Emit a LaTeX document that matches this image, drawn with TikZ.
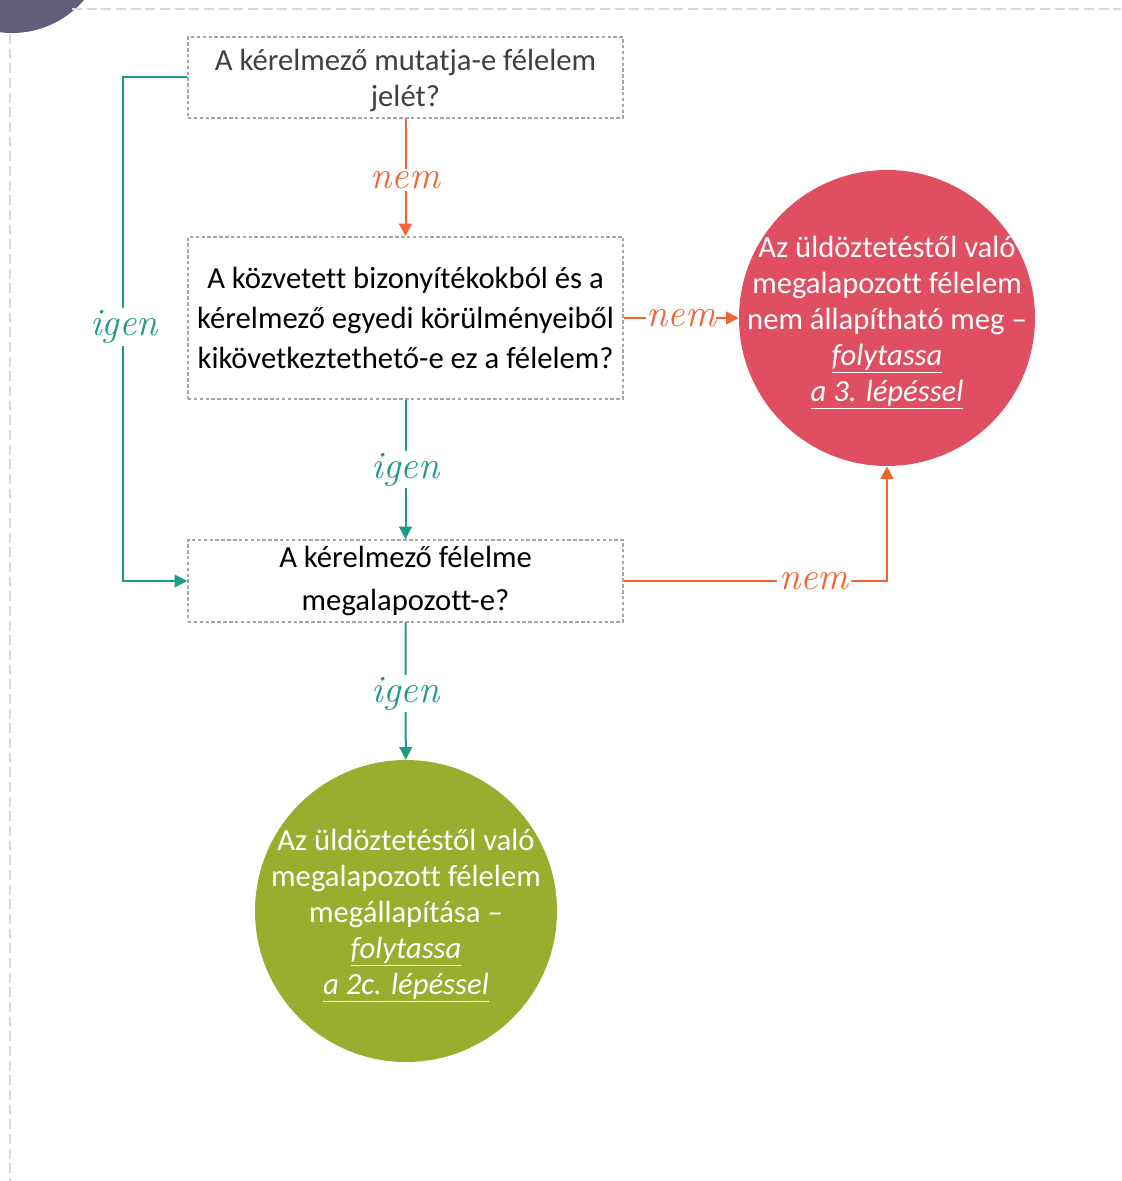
\documentclass[tikz,border=0pt]{standalone}
\usepackage{fontspec}
\newfontfamily\calibri[Ligatures=NoCommon]{Carlito}
\usetikzlibrary{arrows.meta}
\definecolor{igencol}{HTML}{1F9A87}
\definecolor{nemcol}{HTML}{F26434}
\definecolor{redend}{HTML}{E04E62}
\definecolor{greenend}{HTML}{98AE2F}
\definecolor{cornercol}{HTML}{635C7B}
\definecolor{framegray}{HTML}{D9D9D9}
\definecolor{boxgray}{HTML}{A6A6A6}
\begin{document}
\begin{tikzpicture}[x=0.75pt,y=-0.75pt,
  question/.style={draw=boxgray, dash pattern=on 2.6pt off 1.8pt, line width=1.1pt,
    minimum width=326.25pt, inner sep=0pt, align=center,
    font=\calibri\fontsize{23}{27}\selectfont},
  endpoint/.style={circle, inner sep=0pt},
  endtext/.style={inner sep=0pt, text=white, align=center,
    font=\calibri\fontsize{23}{27}\selectfont},
  igenline/.style={draw=igencol, line width=1.5pt, -{Triangle[length=9.5pt,width=9.5pt]}},
  nemline/.style={draw=nemcol, line width=1.5pt, -{Triangle[length=9.5pt,width=9.5pt]}},
  lbl/.style={fill=white, inner sep=1.5pt, font=\fontsize{29}{30}\selectfont\itshape}]
\useasboundingbox (0,0) rectangle (1121,1181);
\clip (0,0) rectangle (1121,1181);

% page frame and corner badge
\fill[cornercol] (12,-62) circle[radius=95];
\draw[framegray, line width=1.5pt, dash pattern=on 7.5pt off 3.5pt] (72,9) -- (1121,9);
\draw[framegray, line width=1.5pt, dash pattern=on 7.5pt off 3.5pt] (10,34) -- (10,1181);

% questions
\node[question, minimum height=60.75pt, text=black!75, text depth=-4.5pt] (b1) at (405.5,77.5)
  {A kérelmező mutatja-e félelem\\jelét?};
\node[question, minimum height=121.5pt, font=\calibri\fontsize{23}{30}\selectfont] (b2) at (405.5,318)
  {A közvetett bizonyítékokból és a\\kérelmező egyedi körülményeiből\\kikövetkeztethető-e ez a félelem?};
\node[question, minimum height=61.5pt, font=\calibri\fontsize{23}{32}\selectfont] (b3) at (405.5,581)
  {A kérelmező félelme\\megalapozott-e?};

% outcomes: fixed-size discs with their text set on top
\node[endpoint, fill=redend, minimum size=222pt] (red) at (887,318) {};
\node[endtext] (red-text) at ([yshift=-3.5pt]red)
  {Az üldöztetéstől való\\megalapozott félelem\\nem állapítható meg –\\
   \underline{\textit{folytassa}}\\\underline{\textit{a 3. lépéssel}}};
\node[endpoint, fill=greenend, minimum size=226.5pt] (green) at (406,911) {};
\node[endtext] (green-text) at ([yshift=-3.5pt]green)
  {Az üldöztetéstől való\\megalapozott félelem\\megállapítása –\\
   \underline{\textit{folytassa}}\\\underline{\textit{a 2c. lépéssel}}};

% connectors
\draw[nemline] (b1) -- node[lbl, text=nemcol, pos=0.52] {nem} (b2);
\draw[nemline] (b2.east) -- node[lbl, text=nemcol, inner xsep=0pt, pos=0.5] {nem} (red.west);
\draw[igenline] (b2) -- node[lbl, text=igencol] {igen} (b3);
\draw[igenline] (b3) -- node[lbl, text=igencol, pos=0.52] {igen} (green);
\draw[igenline] (b1.west) -- ++(-64,0) |- (b3.west);
\node[lbl, text=igencol] (lbl-left) at (124,327) {igen};
\draw[nemline] (b3.east) -| (red.south);
\node[lbl, text=nemcol] (lbl-bottom) at (814,581) {nem};
\end{tikzpicture}
\end{document}
